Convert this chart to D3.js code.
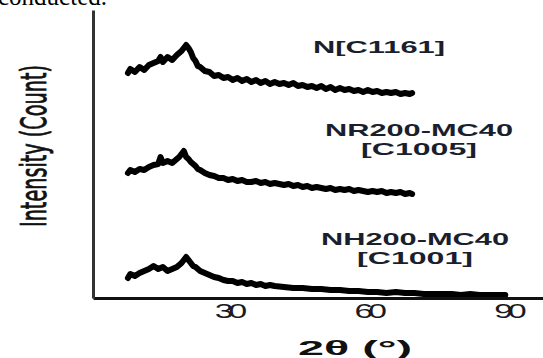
<!DOCTYPE html>
<html>
<head>
<meta charset="utf-8">
<script src="https://cdn.jsdelivr.net/npm/d3@7"></script>
<style>
  html, body { margin: 0; padding: 0; background: #fff; }
  svg { display: block; }
</style>
</head>
<body>
<div id="chart"></div>
<script>
// angles (2θ, degrees) for the two short scans
const angleShort = [8.5, 9, 10, 11, 12, 13, 14, 15, 15.5, 16, 17, 18, 19, 19.5, 20, 20.5, 21, 21.5, 22, 22.5, 23, 23.5, 24,
  25, 26, 27, 28, 29, 30, 31, 32, 33, 34, 35, 36, 37, 38, 39, 40, 41, 42, 43, 44, 45, 46, 47, 48, 49, 50,
  51, 52, 53, 54, 55, 56, 57, 58, 59, 60, 61, 62, 63, 64, 65, 66, 67, 68, 69, 69.5];

// angles for the long scan (NH200-MC40)
const angleLong = [8.5, 9, 10, 11, 12, 13, 14, 15, 16, 17, 18, 19, 19.5, 20, 20.5, 21, 21.5, 22, 22.5, 23,
  24, 25, 26, 27, 28, 29, 30, 31, 32, 33, 34, 35, 36, 37, 38, 39, 40,
  42, 44, 46, 48, 50, 52, 54, 56, 58, 60, 62, 64, 66, 68, 70, 72, 74, 76, 78, 80, 82, 84, 86, 88, 89.5];

// stacked intensity (arbitrary counts, offset as drawn)
const countN = [225, 229, 226, 231, 228, 233, 235, 237, 241, 236, 241, 238, 243, 245, 247, 250, 253, 250, 246, 240, 237, 232, 231,
  227, 226, 222, 223, 220, 221, 218, 220, 217, 219,
  216, 218, 215, 217, 214, 216, 214, 215, 213, 215,
  212, 213, 211, 212, 210, 212, 209, 211, 208, 210,
  208, 209, 207, 208, 206, 208, 206, 207, 205, 206,
  205, 206, 204, 205, 204, 205];

const countNR = [125, 128, 126, 129, 128, 131, 133, 134, 141, 135, 137, 135, 139, 141, 144, 147, 141, 139, 136, 134, 132, 129, 128,
  125, 123, 122, 120, 120, 118, 119, 117, 118, 116,
  116, 117, 115, 116, 114, 115, 114, 113, 114, 112,
  113, 111, 112, 110, 111, 110, 109, 110, 108, 109,
  108, 109, 107, 108, 107, 106, 107, 106, 107, 105,
  106, 105, 106, 104, 105, 104];

const countNH = [20, 24, 22, 25, 27, 29, 32, 29, 31, 27, 29, 31,
  33, 35, 38, 41, 38, 35, 32, 31,
  27, 25, 23, 21, 20, 18, 17, 17, 15, 16, 14, 15, 13, 14, 12, 13, 12,
  11, 10, 10, 9, 9, 8, 8, 7, 7, 6, 6, 5, 6, 5, 5, 4, 4, 4, 4, 3, 4, 3, 3, 3,
  3];

const xTicks = [30, 60, 90];

const labels = [
  { lines: ['N[C1161]'], cx: 379, y: 53, w: [132] },
  { lines: ['NR200-MC40', '[C1005]'], cx: 419, y: 136, w: [188, 116] },
  { lines: ['NH200-MC40', '[C1001]'], cx: 415, y: 245, w: [188, 116] }
];

const width = 543;
const height = 358;

const svg = d3.select('#chart').append('svg')
  .attr('width', width)
  .attr('height', height);

/* ----------scales------------*/
const xScale = d3.scaleLinear().domain([1, 97.6]).range([93, 543]);
const yScale = d3.scaleLinear().domain([0, 288]).range([298, 10]);

/* ----------text cut off from the page above------------*/
svg.append('text')
  .attr('x', -2)
  .attr('y', 5)
  .style('font-family', '"Liberation Serif", "Times New Roman", serif')
  .style('font-size', '25px')
  .attr('fill', '#000')
  .text('conducted.');

/* ----------scans------------*/
const line = d3.line()
  .x(d => xScale(d[0]))
  .y(d => yScale(d[1]));

const scans = [
  d3.zip(angleShort, countN),
  d3.zip(angleShort, countNR),
  d3.zip(angleLong, countNH)
];

svg.append('g').attr('class', 'scans')
  .selectAll('path')
  .data(scans)
  .enter()
  .append('path')
  .attr('d', line)
  .style('fill', 'none')
  .style('stroke', '#000')
  .style('stroke-width', 6)
  .style('stroke-linejoin', 'round')
  .style('stroke-linecap', 'round');

/* ----------axes------------*/
const xAxis = svg.append('g')
  .attr('class', 'axis axis--x')
  .attr('transform', 'translate(0,298)')
  .call(d3.axisBottom(xScale).tickValues(xTicks).tickSize(0).tickSizeOuter(0).tickPadding(5));

xAxis.select('.domain')
  .style('stroke', '#111')
  .style('stroke-width', 3);

// wide, tightly packed digits
xAxis.selectAll('text')
  .style('font-family', '"Liberation Sans", Arial, sans-serif')
  .style('font-size', '21px')
  .style('letter-spacing', '-3px')
  .attr('transform', 'scale(1.6,1)')
  .attr('fill', '#1a1a22');

const yAxis = svg.append('g')
  .attr('class', 'axis axis--y')
  .attr('transform', 'translate(93,0)')
  .call(d3.axisLeft(yScale).tickValues([]).tickSizeOuter(0));

yAxis.select('.domain')
  .style('stroke', '#333')
  .style('stroke-width', 3);

/* ----------axis titles------------*/
svg.append('text')
  .attr('x', 355)
  .attr('y', 355)
  .style('text-anchor', 'middle')
  .style('font-family', '"Liberation Sans", Arial, sans-serif')
  .style('font-size', '21px')
  .style('font-weight', 'bold')
  .attr('textLength', 114)
  .attr('lengthAdjust', 'spacingAndGlyphs')
  .attr('fill', '#111')
  .text('2θ (°)');

svg.append('text')
  .attr('transform', 'translate(46,146) rotate(-90)')
  .style('text-anchor', 'middle')
  .style('font-family', '"Liberation Sans Narrow", "DejaVu Sans Condensed", sans-serif')
  .style('font-size', '36px')
  .attr('textLength', 162)
  .attr('lengthAdjust', 'spacingAndGlyphs')
  .attr('fill', '#111')
  .style('stroke', '#111')
  .style('stroke-width', 0.8)
  .text('Intensity (Count)');

/* ----------sample labels------------*/
labels.forEach(l => {
  l.lines.forEach((t, i) => {
    svg.append('text')
      .attr('x', l.cx)
      .attr('y', l.y + i * 19)
      .style('text-anchor', 'middle')
      .style('font-family', '"Liberation Sans", Arial, sans-serif')
      .style('font-size', '17px')
      .style('font-weight', 'bold')
      .attr('textLength', l.w[i])
      .attr('lengthAdjust', 'spacingAndGlyphs')
      .attr('fill', '#1a1f2e')
      .text(t);
  });
});
</script>
</body>
</html>
